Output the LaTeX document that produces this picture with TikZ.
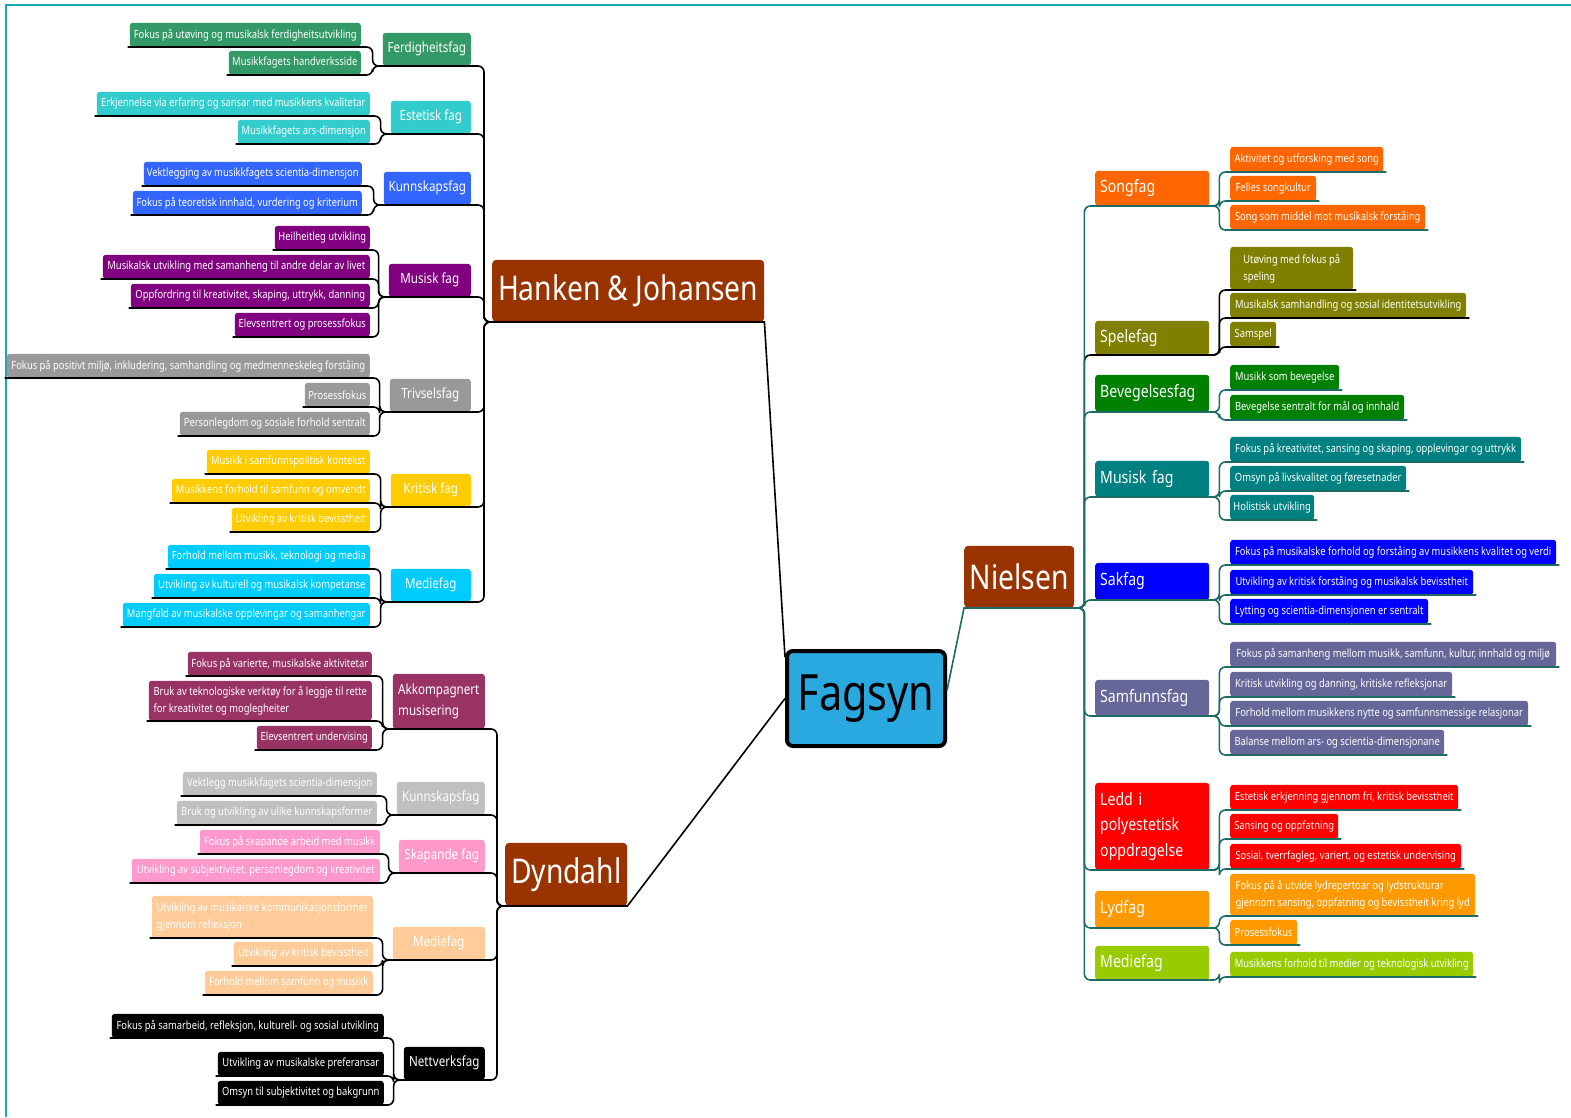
\documentclass[tikz,border=0pt]{standalone}
\usepackage{fontspec}
\setmainfont{Noto Sans}[FakeStretch=0.83]

\definecolor{brn}{HTML}{993300}
\definecolor{sky}{HTML}{29A9E0}
\definecolor{tealline}{HTML}{1D6B63}
\definecolor{framec}{HTML}{1AA9B9}
\definecolor{cFerd}{HTML}{339966}
\definecolor{cEst}{HTML}{33CCCC}
\definecolor{cKun}{HTML}{3366FF}
\definecolor{cMus}{HTML}{800080}
\definecolor{cTriv}{HTML}{999999}
\definecolor{cKrit}{HTML}{FFCC00}
\definecolor{cMed}{HTML}{00CCFF}
\definecolor{cAkk}{HTML}{993366}
\definecolor{cKunD}{HTML}{C0C0C0}
\definecolor{cSkap}{HTML}{FF99CC}
\definecolor{cMedD}{HTML}{FFCC99}
\definecolor{cSong}{HTML}{FF6600}
\definecolor{cSpel}{HTML}{808000}
\definecolor{cBev}{HTML}{008000}
\definecolor{cMusN}{HTML}{008080}
\definecolor{cSak}{HTML}{0000FF}
\definecolor{cSamf}{HTML}{666699}
\definecolor{cLedd}{HTML}{FF0000}
\definecolor{cLyd}{HTML}{FF9900}
\definecolor{cMedN}{HTML}{99CC00}

\begin{document}
\begin{tikzpicture}[x=1pt,y=-1pt,
  leaf/.style={rounded corners=3pt, text=white, font=\fontsize{11.3}{17}\selectfont, inner sep=3pt, minimum height=24pt, align=left},
  leafL/.style={leaf, anchor=south east},
  leafR/.style={leaf, anchor=south west},
  sub/.style={rounded corners=3pt, text=white, font=\fontsize{14}{21}\selectfont, inner sep=4pt, minimum height=33pt, align=left, anchor=south east},
  subR/.style={rounded corners=3pt, text=white, font=\fontsize{17}{25.5}\selectfont, inner sep=5pt, text width=104pt, minimum height=35pt, align=left, anchor=south west},
  author/.style={rounded corners=4pt, fill=brn, text=white, font=\fontsize{34}{40}\selectfont, inner sep=3pt, minimum height=62pt, anchor=south west},
  conn/.style={draw=black, line width=1.6pt, rounded corners=6pt},
  connN/.style={conn, draw=tealline}]

\useasboundingbox (0,0) rectangle (1571,1117);
\draw[framec, line width=1.5pt] (1571,5) -- (6,5) -- (6,1117);

% centre and authors
\node[draw=black, line width=4pt, fill=sky, rounded corners=6pt, minimum width=158pt, minimum height=95pt, anchor=north west, font=\fontsize{50}{56}\selectfont] at (785,649) (fag) {Fagsyn};
\node[author, minimum width=272pt] at (492,322) (hj) {Hanken \& Johansen};
\node[author, minimum width=122pt, minimum height=63pt] at (505,906) (dyn) {Dyndahl};
\node[author, minimum width=110pt] at (964,608) (niel) {Nielsen};

% Hanken & Johansen
\node[sub, fill=cFerd, minimum width=88pt] at (471,66) (ferd) {Ferdigheitsfag};
\node[leafL, fill=cFerd, minimum width=231pt] at (361,47) (f1) {Fokus på utøving og musikalsk ferdigheitsutvikling};
\node[leafL, fill=cFerd, minimum width=132pt] at (361,75) (f2) {Musikkfagets handverksside};

\node[sub, fill=cEst, minimum width=80pt] at (471,134) (est) {Estetisk fag};
\node[leafL, fill=cEst, minimum width=273pt] at (370,116) (e1) {Erkjennelse via erfaring og sansar med musikkens kvalitetar};
\node[leafL, fill=cEst, minimum width=132pt] at (370,144) (e2) {Musikkfagets ars-dimensjon};

\node[sub, fill=cKun, minimum width=87pt] at (471,205) (kun) {Kunnskapsfag};
\node[leafL, fill=cKun, minimum width=218pt] at (362,186) (k1) {Vektlegging av musikkfagets scientia-dimensjon};
\node[leafL, fill=cKun, minimum width=229pt] at (362,215) (k2) {Fokus på teoretisk innhald, vurdering og kriterium};

\node[sub, fill=cMus, minimum width=82pt] at (471,297) (mus) {Musisk fag};
\node[leafL, fill=cMus, minimum width=95pt] at (370,250) (m1) {Heilheitleg utvikling};
\node[leafL, fill=cMus, minimum width=267pt] at (370,279) (m2) {Musikalsk utvikling med samanheng til andre delar av livet};
\node[leafL, fill=cMus, minimum width=239pt] at (370,308) (m3) {Oppfordring til kreativitet, skaping, uttrykk, danning};
\node[leafL, fill=cMus, minimum width=135pt] at (370,337) (m4) {Elevsentrert og prosessfokus};

\node[sub, fill=cTriv, minimum width=81pt] at (471,412) (triv) {Trivselsfag};
\node[leafL, fill=cTriv, minimum width=363pt] at (370,378) (t1) {Fokus på positivt miljø, inkludering, samhandling og medmenneskeleg forståing};
\node[leafL, fill=cTriv, minimum width=65pt] at (370,407) (t2) {Prosessfokus};
\node[leafL, fill=cTriv, minimum width=190pt] at (370,436) (t3) {Personlegdom og sosiale forhold sentralt};

\node[sub, fill=cKrit, minimum width=80pt] at (471,507) (krit) {Kritisk fag};
\node[leafL, fill=cKrit, minimum width=163pt] at (370,474) (kr1) {Musikk i samfunnspolitisk kontekst};
\node[leafL, fill=cKrit, minimum width=198pt] at (370,503) (kr2) {Musikkens forhold til samfunn og omvendt};
\node[leafL, fill=cKrit, minimum width=138pt] at (370,532) (kr3) {Utvikling av kritisk bevisstheit};

\node[sub, fill=cMed, minimum width=80pt] at (471,602) (med) {Mediefag};
\node[leafL, fill=cMed, minimum width=202pt] at (370,569) (me1) {Forhold mellom musikk, teknologi og media};
\node[leafL, fill=cMed, minimum width=216pt] at (370,598) (me2) {Utvikling av kulturell og musikalsk kompetanse};
\node[leafL, fill=cMed, minimum width=247pt] at (370,627) (me3) {Mangfald av musikalske opplevingar og samanhengar};

% Dyndahl
\node[sub, fill=cAkk, minimum width=92pt, minimum height=55pt] at (485,729) (akk) {Akkompagnert\\musisering};
\node[leafL, fill=cAkk, minimum width=184pt] at (372,676) (a1) {Fokus på varierte, musikalske aktivitetar};
\node[leafL, fill=cAkk, minimum width=223pt, minimum height=40pt] at (372,721) (a2) {Bruk av teknologiske verktøy for å leggje til rette\\for kreativitet og moglegheiter};
\node[leafL, fill=cAkk, minimum width=115pt] at (372,750) (a3) {Elevsentrert undervising};

\node[sub, fill=cKunD, minimum width=88pt] at (485,815) (kunD) {Kunnskapsfag};
\node[leafL, fill=cKunD, minimum width=194pt] at (377,796) (kd1) {Vektlegg musikkfagets scientia-dimensjon};
\node[leafL, fill=cKunD, minimum width=200pt] at (377,825) (kd2) {Bruk og utvikling av ulike kunnskapsformer};

\node[sub, fill=cSkap, minimum width=86pt] at (485,873) (skap) {Skapande fag};
\node[leafL, fill=cSkap, minimum width=180pt] at (380,854) (s1) {Fokus på skapande arbeid med musikk};
\node[leafL, fill=cSkap, minimum width=248pt] at (380,883) (s2) {Utvikling av subjektivitet, personlegdom og kreativitet};

\node[sub, fill=cMedD, minimum width=92pt] at (485,960) (medD) {Mediefag};
\node[leafL, fill=cMedD, minimum width=221pt, minimum height=42pt] at (373,938) (md1) {Utvikling av musikalske kommunikasjonsformer\\gjennom refleksjon};
\node[leafL, fill=cMedD, minimum width=139pt] at (373,966) (md2) {Utvikling av kritisk bevisstheit};
\node[leafL, fill=cMedD, minimum width=168pt] at (373,995) (md3) {Forhold mellom samfunn og musikk};

\node[sub, fill=black, minimum width=81pt] at (485,1080) (nett) {Nettverksfag};
\node[leafL, fill=black, minimum width=272pt] at (384,1038) (n1) {Fokus på samarbeid, refleksjon, kulturell- og sosial utvikling};
\node[leafL, fill=black, minimum width=166pt] at (384,1076) (n2) {Utvikling av musikalske preferansar};
\node[leafL, fill=black, minimum width=166pt] at (384,1105) (n3) {Omsyn til subjektivitet og bakgrunn};

% Nielsen
\node[subR, fill=cSong] at (1095,206) (song) {Songfag};
\node[leafR, fill=cSong, minimum width=153pt, minimum height=25pt] at (1230,172) (so1) {Aktivitet og utforsking med song};
\node[leafR, fill=cSong, minimum width=86pt, minimum height=25pt] at (1230,201) (so2) {Felles songkultur};
\node[leafR, fill=cSong, minimum width=195pt, minimum height=25pt] at (1230,230) (so3) {Song som middel mot musikalsk forståing};

\node[subR, fill=cSpel, minimum height=34pt] at (1095,355) (spel) {Spelefag};
\node[leafR, fill=cSpel, minimum width=123pt, minimum height=43pt] at (1230,290) (sp1) {Utøving med fokus på\\speling};
\node[leafR, fill=cSpel, minimum width=236pt, minimum height=25pt] at (1230,318) (sp2) {Musikalsk samhandling og sosial identitetsutvikling};
\node[leafR, fill=cSpel, minimum width=46pt, minimum height=25pt] at (1230,347) (sp3) {Samspel};

\node[subR, fill=cBev, minimum height=37pt] at (1095,412) (bev) {Bevegelsesfag};
\node[leafR, fill=cBev, minimum width=109pt, minimum height=25pt] at (1230,390) (b1) {Musikk som bevegelse};
\node[leafR, fill=cBev, minimum width=174pt, minimum height=25pt] at (1230,420) (b2) {Bevegelse sentralt for mål og innhald};

\node[subR, fill=cMusN, minimum height=36pt] at (1095,497) (musN) {Musisk fag};
\node[leafR, fill=cMusN, minimum width=291pt, minimum height=25pt] at (1230,462) (mn1) {Fokus på kreativitet, sansing og skaping, opplevingar og uttrykk};
\node[leafR, fill=cMusN, minimum width=176pt, minimum height=25pt] at (1230,491) (mn2) {Omsyn på livskvalitet og føresetnader};
\node[leafR, fill=cMusN, minimum width=84pt, minimum height=25pt] at (1230,520) (mn3) {Holistisk utvikling};

\node[subR, fill=cSak, minimum height=37pt] at (1095,600) (sak) {Sakfag};
\node[leafR, fill=cSak, minimum width=326pt, minimum height=25pt] at (1230,565) (sa1) {Fokus på musikalske forhold og forståing av musikkens kvalitet og verdi};
\node[leafR, fill=cSak, minimum width=243pt, minimum height=25pt] at (1230,595) (sa2) {Utvikling av kritisk forståing og musikalsk bevisstheit};
\node[leafR, fill=cSak, minimum width=198pt, minimum height=25pt] at (1230,624) (sa3) {Lytting og scientia-dimensjonen er sentralt};

\node[subR, fill=cSamf, minimum height=36pt] at (1095,716) (samf) {Samfunnsfag};
\node[leafR, fill=cSamf, minimum width=326pt, minimum height=25pt] at (1230,667) (sf1) {Fokus på samanheng mellom musikk, samfunn, kultur, innhald og miljø};
\node[leafR, fill=cSamf, minimum width=222pt, minimum height=25pt] at (1230,697) (sf2) {Kritisk utvikling og danning, kritiske refleksjonar};
\node[leafR, fill=cSamf, minimum width=298pt, minimum height=25pt] at (1230,726) (sf3) {Forhold mellom musikkens nytte og samfunnsmessige relasjonar};
\node[leafR, fill=cSamf, minimum width=214pt, minimum height=25pt] at (1230,755) (sf4) {Balanse mellom ars- og scientia-dimensjonane};

\node[subR, fill=cLedd, minimum height=87pt] at (1095,870) (ledd) {Ledd i\\polyestetisk\\oppdragelse};
\node[leafR, fill=cLedd, minimum width=228pt, minimum height=25pt] at (1230,810) (l1) {Estetisk erkjenning gjennom fri, kritisk bevisstheit};
\node[leafR, fill=cLedd, minimum width=108pt, minimum height=25pt] at (1230,839) (l2) {Sansing og oppfatning};
\node[leafR, fill=cLedd, minimum width=231pt, minimum height=25pt] at (1230,869) (l3) {Sosial, tverrfagleg, variert, og estetisk undervising};

\node[subR, fill=cLyd, minimum height=37pt] at (1095,928) (lyd) {Lydfag};
\node[leafR, fill=cLyd, minimum width=245pt, minimum height=42pt] at (1230,916) (ly1) {Fokus på å utvide lydrepertoar og lydstrukturar\\gjennom sansing, oppfatning og bevisstheit kring lyd};
\node[leafR, fill=cLyd, minimum width=67pt, minimum height=25pt] at (1230,945) (ly2) {Prosessfokus};

\node[subR, fill=cMedN, minimum height=34pt] at (1095,980) (medN) {Mediefag};
\node[leafR, fill=cMedN, minimum width=243pt, minimum height=25pt] at (1230,977) (mN1) {Musikkens forhold til medier og teknologisk utvikling};

% connectors, left side
\foreach \p/\c in {ferd/f1, ferd/f2, est/e1, est/e2, kun/k1, kun/k2, mus/m1, mus/m2, mus/m3, mus/m4,
    triv/t1, triv/t2, triv/t3, krit/kr1, krit/kr2, krit/kr3, med/me1, med/me2, med/me3,
    akk/a1, akk/a2, akk/a3, kunD/kd1, kunD/kd2, skap/s1, skap/s2, medD/md1, medD/md2, medD/md3,
    nett/n1, nett/n2, nett/n3}
  \draw[conn] ([xshift=-2pt]\c.south west) -| ([xshift=-10pt]\p.south west) -- (\p.south west);
\foreach \c in {ferd, est, kun, mus, triv, krit, med}
  \draw[conn] (\c.south west) -| ([xshift=-8pt]hj.south west) -- (hj.south west);
\foreach \c in {akk, kunD, skap, medD, nett}
  \draw[conn] (\c.south west) -| ([xshift=-8pt]dyn.south west) -- (dyn.south west);

% connectors, right side
\draw[conn] (spel.south east) -| ([xshift=10pt]niel.south east) -- (niel.south east);
\foreach \c in {sp1, sp2, sp3}
  \draw[conn] ([xshift=3pt]\c.south east) -| ([xshift=10pt]spel.south east) -- (spel.south east);
\foreach \c in {song, bev, musN, sak, samf, ledd, lyd, medN}
  \draw[connN] (\c.south east) -| ([xshift=10pt]niel.south east) -- (niel.south east);
\foreach \p/\c in {song/so1, song/so2, song/so3, bev/b1, bev/b2, musN/mn1, musN/mn2, musN/mn3,
    sak/sa1, sak/sa2, sak/sa3, samf/sf1, samf/sf2, samf/sf3, samf/sf4, ledd/l1, ledd/l2, ledd/l3,
    lyd/ly1, lyd/ly2, medN/mN1}
  \draw[connN] ([xshift=3pt]\c.south east) -| ([xshift=10pt]\p.south east) -- (\p.south east);

% to the centre
\draw[conn, rounded corners=0pt] (hj.south west) -- (hj.south east) -- ([yshift=-8pt]fag.north west);
\draw[conn, rounded corners=0pt] (dyn.south west) -- (dyn.south east) -- (fag.west);
\draw[connN, rounded corners=0pt] (niel.south east) -- (niel.south west) -- ([yshift=8pt]fag.east);

\end{tikzpicture}
\end{document}
